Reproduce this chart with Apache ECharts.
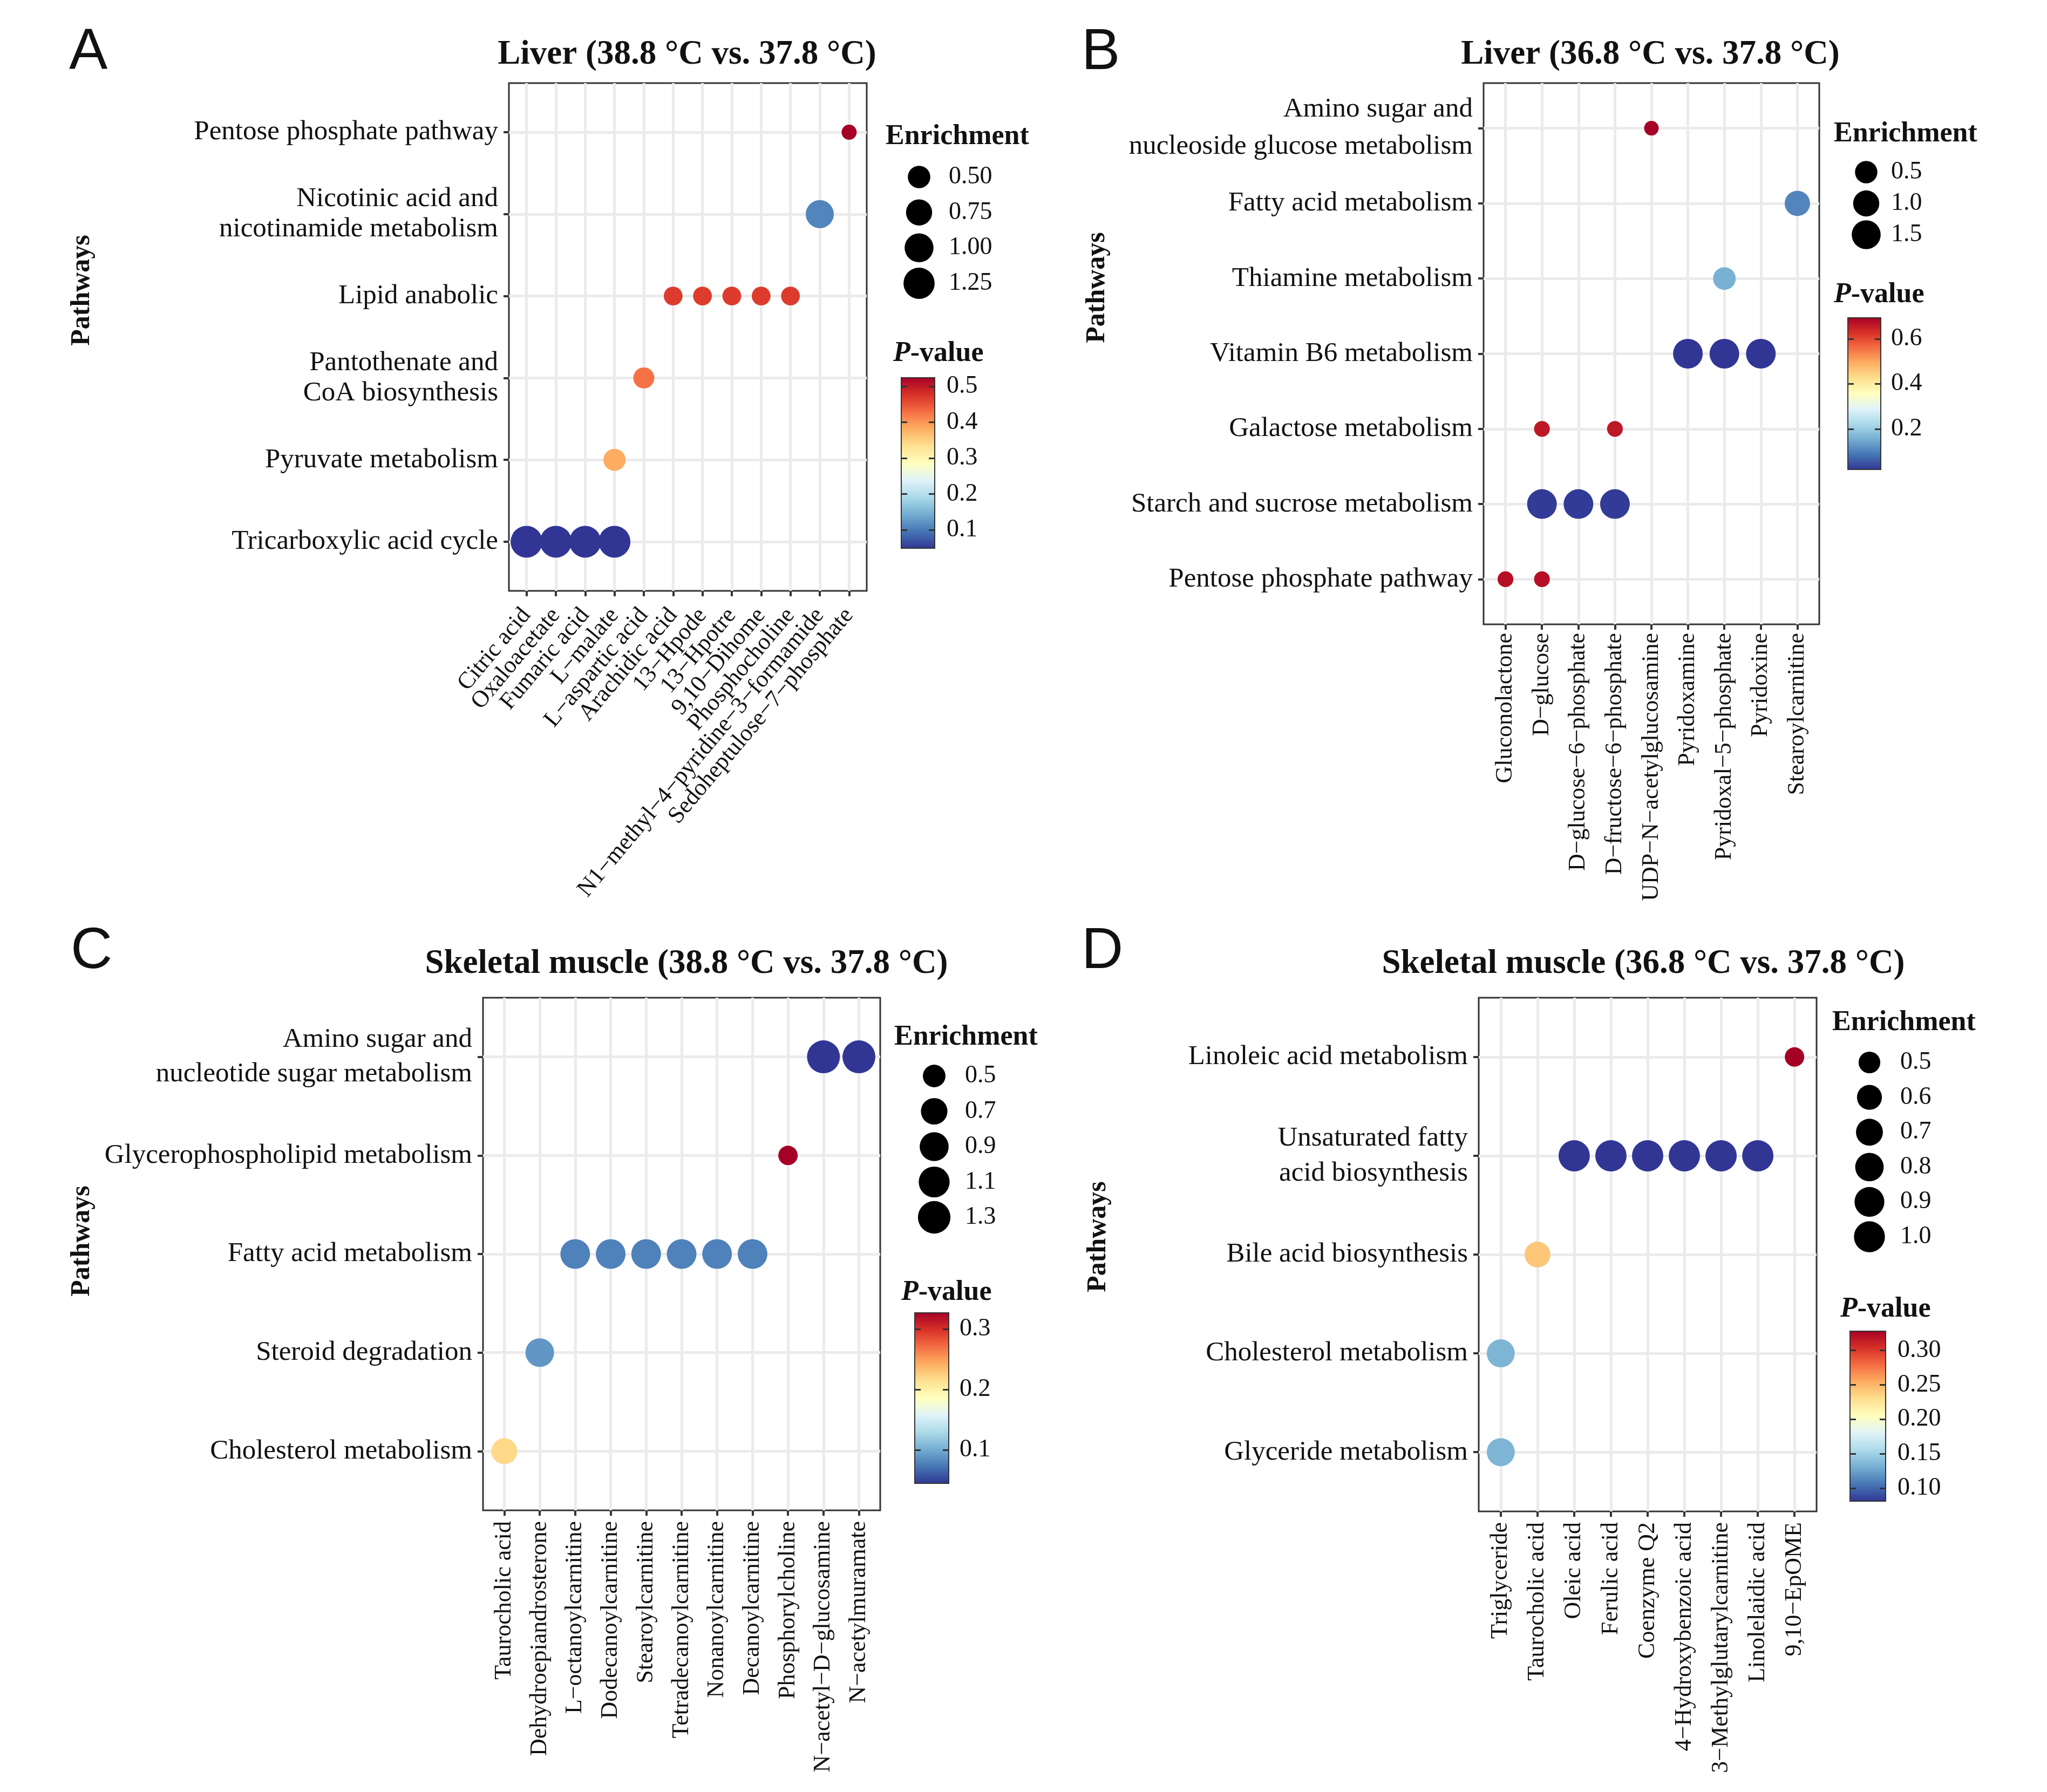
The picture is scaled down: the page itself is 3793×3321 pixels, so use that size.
<!DOCTYPE html>
<html><head><meta charset="utf-8">
<script src="https://cdn.jsdelivr.net/npm/echarts@6/dist/echarts.min.js"></script>
<style>html,body{margin:0;padding:0;background:#fff}#c{width:3793px;height:3321px}</style>
</head><body><div id="c"></div>
<script>
// ---------------- DATA ----------------
// Panel A: Liver (38.8 vs 37.8)
const aPathways = ['Pentose phosphate pathway','Nicotinic acid and\nnicotinamide metabolism','Lipid anabolic','Pantothenate and\nCoA biosynthesis','Pyruvate metabolism','Tricarboxylic acid cycle'];
const aMetabolites = ['Citric acid','Oxaloacetate','Fumaric acid','L−malate','L−aspartic acid','Arachidic acid','13−Hpode','13−Hpotre','9,10−Dihome','Phosphocholine','N1−methyl−4−pyridine−3−formamide','Sedoheptulose−7−phosphate'];
// [metabolite, pathway row index, enrichment, P-value]
const aPoints = [
  ['Citric acid',5,1.33,0.049],['Oxaloacetate',5,1.33,0.049],['Fumaric acid',5,1.33,0.049],['L−malate',5,1.33,0.049],
  ['L−malate',4,0.48,0.383],
  ['L−aspartic acid',3,0.43,0.425],
  ['Arachidic acid',2,0.35,0.467],['13−Hpode',2,0.35,0.467],['13−Hpotre',2,0.35,0.467],['9,10−Dihome',2,0.35,0.467],['Phosphocholine',2,0.35,0.467],
  ['N1−methyl−4−pyridine−3−formamide',1,0.92,0.11],
  ['Sedoheptulose−7−phosphate',0,0.30,0.524]
];
const aSizeBreaks = ['0.50','0.75','1.00','1.25'];
const aPBreaks = [0.1,0.2,0.3,0.4,0.5];

// Panel B: Liver (36.8 vs 37.8)
const bPathways = ['Amino sugar and\nnucleoside glucose metabolism','Fatty acid metabolism','Thiamine metabolism','Vitamin B6 metabolism','Galactose metabolism','Starch and sucrose metabolism','Pentose phosphate pathway'];
const bMetabolites = ['Gluconolactone','D−glucose','D−glucose−6−phosphate','D−fructose−6−phosphate','UDP−N−acetylglucosamine','Pyridoxamine','Pyridoxal−5−phosphate','Pyridoxine','Stearoylcarnitine'];
const bPoints = [
  ['UDP−N−acetylglucosamine',0,0.08,0.693],
  ['Stearoylcarnitine',1,0.88,0.107],
  ['Pyridoxal−5−phosphate',2,0.53,0.16],
  ['Pyridoxamine',3,1.65,0.02],['Pyridoxal−5−phosphate',3,1.65,0.02],['Pyridoxine',3,1.65,0.02],
  ['D−glucose',4,0.09,0.66],['D−fructose−6−phosphate',4,0.09,0.66],
  ['D−glucose',5,1.65,0.025],['D−glucose−6−phosphate',5,1.65,0.025],['D−fructose−6−phosphate',5,1.65,0.025],
  ['Gluconolactone',6,0.09,0.67],['D−glucose',6,0.09,0.67]
];
const bSizeBreaks = ['0.5','1.0','1.5'];
const bPBreaks = [0.2,0.4,0.6];

// Panel C: Skeletal muscle (38.8 vs 37.8)
const cPathways = ['Amino sugar and\nnucleotide sugar metabolism','Glycerophospholipid metabolism','Fatty acid metabolism','Steroid degradation','Cholesterol metabolism'];
const cMetabolites = ['Taurocholic acid','Dehydroepiandrosterone','L−octanoylcarnitine','Dodecanoylcarnitine','Stearoylcarnitine','Tetradecanoylcarnitine','Nonanoylcarnitine','Decanoylcarnitine','Phosphorylcholine','N−acetyl−D−glucosamine','N−acetylmuramate'];
const cPoints = [
  ['N−acetyl−D−glucosamine',0,1.35,0.045],['N−acetylmuramate',0,1.35,0.045],
  ['Phosphorylcholine',1,0.45,0.327],
  ['L−octanoylcarnitine',2,0.97,0.079],['Dodecanoylcarnitine',2,0.97,0.079],['Stearoylcarnitine',2,0.97,0.079],['Tetradecanoylcarnitine',2,0.97,0.079],['Nonanoylcarnitine',2,0.97,0.079],['Decanoylcarnitine',2,0.97,0.079],
  ['Dehydroepiandrosterone',3,0.87,0.09],
  ['Taurocholic acid',4,0.66,0.218]
];
const cSizeBreaks = ['0.5','0.7','0.9','1.1','1.3'];
const cPBreaks = [0.1,0.2,0.3];

// Panel D: Skeletal muscle (36.8 vs 37.8)
const dPathways = ['Linoleic acid metabolism','Unsaturated fatty\nacid biosynthesis','Bile acid biosynthesis','Cholesterol metabolism','Glyceride metabolism'];
const dMetabolites = ['Triglyceride','Taurocholic acid','Oleic acid','Ferulic acid','Coenzyme Q2','4−Hydroxybenzoic acid','3−Methylglutarylcarnitine','Linolelaidic acid','9,10−EpOME'];
const dPoints = [
  ['9,10−EpOME',0,0.48,0.328],
  ['Oleic acid',1,1.03,0.081],['Ferulic acid',1,1.03,0.081],['Coenzyme Q2',1,1.03,0.081],['4−Hydroxybenzoic acid',1,1.03,0.081],['3−Methylglutarylcarnitine',1,1.03,0.081],['Linolelaidic acid',1,1.03,0.081],
  ['Taurocholic acid',2,0.64,0.242],
  ['Triglyceride',3,0.77,0.135],
  ['Triglyceride',4,0.77,0.135]
];
const dSizeBreaks = ['0.5','0.6','0.7','0.8','0.9','1.0'];
const dPBreaks = [0.10,0.15,0.20,0.25,0.30];

const titles = ['Liver (38.8 °C vs. 37.8 °C)','Liver (36.8 °C vs. 37.8 °C)','Skeletal muscle (38.8 °C vs. 37.8 °C)','Skeletal muscle (36.8 °C vs. 37.8 °C)'];
const letters = ['A','B','C','D'];

// ---------------- STYLE / LAYOUT ----------------
const PALETTE = ['#313695','#4575b4','#74add1','#abd9e9','#e0f3f8','#ffffbf','#fee090','#fdae61','#f46d43','#d73027','#a50026'];
const SERIF = 'Liberation Serif';
const SANS = 'Liberation Sans';
const TXT = '#111';

const panels = [
  {paths:aPathways, mets:aMetabolites, pts:aPoints, sb:aSizeBreaks, pb:aPBreaks, digits:1,
   L:{box:[943,154,663,941], rot:50, xm:38, lh:56, letter:[128,98], title:[1273,102], pw:[152,538],
      enr:[1641,254], pt:[1655,656], sl:{cx:1703,y0:328,y1:525,lx:1758}, d:[28,59], cb:[1670,700,62,316], cbx:1754}},
  {paths:bPathways, mets:bMetabolites, pts:bPoints, sb:bSizeBreaks, pb:bPBreaks, digits:1,
   L:{box:[2749,154,622,1003], rot:90, xm:16, lh:69, letter:[2004,98], title:[3058,102], pw:[2033,533],
      enr:[3398,249], pt:[3398,547], sl:{cx:3458,y0:319,y1:435,lx:3504}, d:[27,55], cb:[3424,589,61,281], cbx:3504}},
  {paths:cPathways, mets:cMetabolites, pts:cPoints, sb:cSizeBreaks, pb:cPBreaks, digits:1,
   L:{box:[895,1849,736,950], rot:90, xm:20, lh:64, letter:[131,1764], title:[1272,1787], pw:[152,2300],
      enr:[1657,1923], pt:[1670,2396], sl:{cx:1731,y0:1994,y1:2256,lx:1788}, d:[36,61], cb:[1695,2433,63,316], cbx:1778}},
  {paths:dPathways, mets:dMetabolites, pts:dPoints, sb:dSizeBreaks, pb:dPBreaks, digits:2,
   L:{box:[2740,1849,626,952], rot:90, xm:20, lh:65, letter:[2004,1764], title:[3045,1787], pw:[2035,2292],
      enr:[3395,1896], pt:[3410,2427], sl:{cx:3464,y0:1969,y1:2292,lx:3521}, d:[36,58], cb:[3428,2467,66,315], cbx:3516}}
];

function idx(n){ return Array.from({length:n}, (_, i) => i); }
function makeSize(vals, d1, d2){
  const lo = Math.min(...vals), hi = Math.max(...vals);
  return v => d1 + (d2 - d1) * Math.sqrt(Math.max(0, (v - lo) / (hi - lo)));
}
function txt(x, y, text, font, align, extra){
  return Object.assign({type:'text', x:x, y:y, silent:true,
    style:Object.assign({text:text, fill:TXT, align:align||'left', verticalAlign:'middle',
      textAlign:align||'left', textVerticalAlign:'middle'}, font)}, extra||{});
}

const grid = [], xAxis = [], yAxis = [], series = [], visualMap = [], graphic = [];

panels.forEach((P, k) => {
  const L = P.L;
  const nx = P.mets.length, ny = P.paths.length;
  const enrVals = P.pts.map(p => p[2]);
  const pVals = P.pts.map(p => p[3]);
  const pmin = Math.min(...pVals), pmax = Math.max(...pVals);
  const size = makeSize(enrVals, L.d[0], L.d[1]);
  const evenIdx = idx(nx).filter(i => i % 2 === 0);
  const oddIdx = idx(nx).filter(i => i % 2 === 1);
  const xLabel = (vals) => ({show:true, customValues:vals, formatter:v => P.mets[Math.round(v)], rotate:L.rot, margin:L.xm,
      showMinLabel:true, showMaxLabel:true, hideOverlap:false, fontFamily:SERIF, fontSize:44, color:TXT});

  // ---- main plot ----
  let gi = grid.length;
  grid.push({left:L.box[0], top:L.box[1], width:L.box[2], height:L.box[3], show:true,
    borderColor:'#333', borderWidth:3, backgroundColor:'#fff', containLabel:false, outerBoundsMode:'none'});
  xAxis.push({gridIndex:gi, type:'value', min:-0.6, max:nx-0.4, position:'bottom',
    axisLine:{show:false, onZero:false},
    axisTick:{show:true, customValues:idx(nx), length:10, lineStyle:{color:'#333', width:4}},
    axisLabel:xLabel(evenIdx),
    splitLine:{show:true, lineStyle:{color:'#ebebeb', width:5}}});
  const mainX = xAxis.length - 1;
  // second bottom axis carrying the odd-position labels (same scale), so neighbouring labels are not auto-hidden
  xAxis.push({gridIndex:gi, type:'value', min:-0.6, max:nx-0.4, position:'bottom', offset:0,
    axisLine:{show:false, onZero:false}, axisTick:{show:false}, splitLine:{show:false},
    axisLabel:xLabel(oddIdx)});
  yAxis.push({gridIndex:gi, type:'value', min:-0.6, max:ny-0.4, inverse:true, position:'left',
    axisLine:{show:false, onZero:false},
    axisTick:{show:true, customValues:idx(ny), length:10, lineStyle:{color:'#333', width:4}},
    axisLabel:{show:true, customValues:idx(ny), formatter:v => P.paths[Math.round(v)], margin:20,
      showMinLabel:true, showMaxLabel:true, hideOverlap:false,
      fontFamily:SERIF, fontSize:51, color:TXT, lineHeight:L.lh, align:'right'},
    splitLine:{show:true, lineStyle:{color:'#ebebeb', width:5}}});
  const si = series.length;
  series.push({type:'scatter', xAxisIndex:mainX, yAxisIndex:yAxis.length-1, z:3,
    data:P.pts.map(p => [P.mets.indexOf(p[0]), p[1], p[2], p[3]]),
    symbol:'circle', symbolSize:v => size(v[2]), itemStyle:{opacity:1}, silent:true, clip:false});
  visualMap.push({type:'continuous', show:false, seriesIndex:si, dimension:3, min:pmin, max:pmax,
    inRange:{color:PALETTE}});

  // ---- size legend ----
  const S = L.sl, n = P.sb.length, step = (S.y1 - S.y0) / (n - 1);
  gi = grid.length;
  grid.push({left:S.cx-35, top:S.y0-step/2, width:70, height:step*n, show:false, containLabel:false, outerBoundsMode:'none'});
  xAxis.push({gridIndex:gi, type:'value', min:0, max:1, show:false});
  yAxis.push({gridIndex:gi, type:'category', data:P.sb, inverse:true, position:'right',
    axisLine:{show:false, onZero:false}, axisTick:{show:false}, splitLine:{show:false},
    axisLabel:{show:true, interval:0, hideOverlap:false, margin:S.lx-(S.cx+35), fontFamily:SERIF, fontSize:46, color:TXT, align:'left'}});
  series.push({type:'scatter', xAxisIndex:xAxis.length-1, yAxisIndex:yAxis.length-1, silent:true,
    data:P.sb.map(b => [0.5, b]), symbol:'circle', symbolSize:v => size(parseFloat(v[1])),
    itemStyle:{color:'#000', opacity:1}});

  // ---- colour bar ----
  const C = L.cb;
  gi = grid.length;
  grid.push({left:C[0], top:C[1], width:C[2], height:C[3], show:false, containLabel:false, outerBoundsMode:'none'});
  xAxis.push({gridIndex:gi, type:'value', min:0, max:1, show:false});
  const tickCommon = {show:true, inside:true, customValues:P.pb, length:11, lineStyle:{color:'#333', width:3}};
  yAxis.push({gridIndex:gi, type:'value', min:pmin, max:pmax, position:'right', z:10,
    axisLine:{show:false, onZero:false}, splitLine:{show:false}, axisTick:tickCommon,
    axisLabel:{show:true, customValues:P.pb, formatter:v => v.toFixed(P.digits), margin:L.cbx-(C[0]+C[2]),
      showMinLabel:true, showMaxLabel:true, hideOverlap:false,
      fontFamily:SERIF, fontSize:46, color:TXT}});
  const cbYIndex = yAxis.length - 1;
  yAxis.push({gridIndex:gi, type:'value', min:pmin, max:pmax, position:'left', z:10,
    axisLine:{show:false, onZero:false}, splitLine:{show:false}, axisTick:tickCommon, axisLabel:{show:false}});
  const stops = PALETTE.slice().reverse().map((c, i) => ({offset:i/(PALETTE.length-1), color:c}));
  series.push({type:'custom', xAxisIndex:xAxis.length-1, yAxisIndex:cbYIndex, silent:true, z:2,
    data:[[pmin, pmax]],
    renderItem:(params, api) => {
      const p0 = api.coord([0, api.value(1)]);
      const p1 = api.coord([1, api.value(0)]);
      return {type:'rect', shape:{x:p0[0], y:p0[1], width:p1[0]-p0[0], height:p1[1]-p0[1]},
        style:{fill:new echarts.graphic.LinearGradient(0,0,0,1,stops), stroke:'#333', lineWidth:2}};
    }});

  // ---- texts ----
  graphic.push(txt(L.letter[0], L.letter[1], letters[k], {fontFamily:SANS, fontSize:107, fontWeight:'normal'}, 'left'));
  graphic.push(txt(L.title[0], L.title[1], titles[k], {fontFamily:SERIF, fontSize:63, fontWeight:'bold'}, 'center'));
  graphic.push(txt(L.pw[0], L.pw[1], 'Pathways', {fontFamily:SERIF, fontSize:50, fontWeight:'bold'}, 'center', {rotation:Math.PI/2}));
  graphic.push(txt(L.enr[0], L.enr[1], 'Enrichment', {fontFamily:SERIF, fontSize:52, fontWeight:'bold'}, 'left'));
  graphic.push(txt(L.pt[0], L.pt[1], '{i|P}-value', {fontFamily:SERIF, fontSize:52, fontWeight:'bold',
    rich:{i:{fontFamily:SERIF, fontSize:52, fontWeight:'bold', fontStyle:'italic', fill:TXT}}}, 'left'));
});

const chart = echarts.init(document.getElementById('c'), null, {renderer:'canvas', width:3793, height:3321});
chart.setOption({
  backgroundColor:'#fff',
  animation:false,
  textStyle:{fontFamily:SERIF},
  grid:grid, xAxis:xAxis, yAxis:yAxis, series:series, visualMap:visualMap,
  graphic:{elements:graphic}
});
</script>
</body></html>
